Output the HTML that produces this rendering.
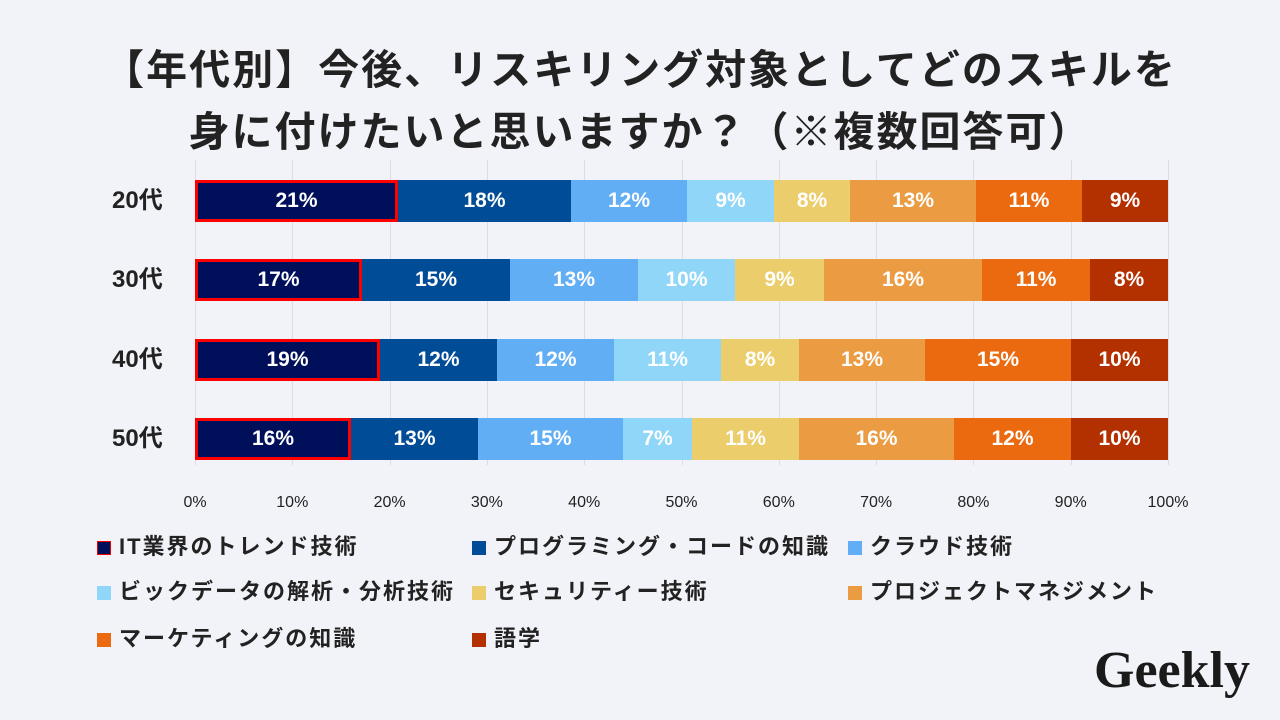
<!DOCTYPE html>
<html><head><meta charset="utf-8"><style>
body{margin:0;width:1280px;height:720px;background:#f2f3f8;position:relative;overflow:hidden;font-family:"Liberation Sans","Noto Sans CJK JP",sans-serif;color:#222}
.t{position:absolute;left:0;width:1280px;text-align:center;font-weight:bold;font-size:41px;letter-spacing:2px;line-height:50px}
.g{position:absolute;top:160px;height:305px;width:1px;background:#dcdde2}
.s{position:absolute;height:42px;color:#fff;font-weight:bold;font-size:21px;line-height:42px;text-align:center;box-sizing:border-box}
.y{position:absolute;left:112px;font-weight:bold;font-size:24px;width:60px;line-height:42px}
.x{position:absolute;top:494px;font-size:16px;width:60px;text-align:center;margin-left:-30px}
.l{position:absolute;font-weight:bold;font-size:22px;letter-spacing:2px;line-height:24px;white-space:nowrap}
.l i{display:inline-block;width:14px;height:14px;margin-right:8px;vertical-align:-1px}
</style></head><body>
<div class="t" style="top:45px">【年代別】今後、リスキリング対象としてどのスキルを</div>
<div class="t" style="top:107px">身に付けたいと思いますか？（※複数回答可）</div>
<div id="c"></div>
<script>
var cols=["#000f5a","#004c97","#62aef5","#8fd6f8","#ebcd6c","#eb9c42","#eb6a10","#b33000"];
var rows=[[180,"20代",[195,398,571,687,774,850,976,1082,1168],["21%","18%","12%","9%","8%","13%","11%","9%"]],
[259,"30代",[195,362,510,638,735,824,982,1090,1168],["17%","15%","13%","10%","9%","16%","11%","8%"]],
[339,"40代",[195,380,497,614,721,799,925,1071,1168],["19%","12%","12%","11%","8%","13%","15%","10%"]],
[418,"50代",[195,351,478,623,692,799,954,1071,1168],["16%","13%","15%","7%","11%","16%","12%","10%"]]];
var h="";
for(var i=0;i<=10;i++){var x=195+97.3*i;h+='<div class="g" style="left:'+Math.round(x)+'px"></div><div class="x" style="left:'+x+'px">'+(i*10)+'%</div>';}
rows.forEach(function(r){h+='<div class="y" style="top:'+(r[0])+'px">'+r[1]+'</div>';
for(var k=0;k<8;k++){var b=k==0?'border:3px solid #f00;line-height:36px;':'';
h+='<div class="s" style="top:'+r[0]+'px;left:'+r[2][k]+'px;width:'+(r[2][k+1]-r[2][k])+'px;background:'+cols[k]+';'+b+'">'+r[3][k]+'</div>';}});
var L=[["IT業界のトレンド技術",97,535,0],["プログラミング・コードの知識",472,535,1],["クラウド技術",848,535,2],["ビックデータの解析・分析技術",97,580,3],["セキュリティー技術",472,580,4],["プロジェクトマネジメント",848,580,5],["マーケティングの知識",97,627,6],["語学",472,627,7]];
L.forEach(function(l){var b=l[3]==0?'box-sizing:border-box;border:1px solid #e00;':'';h+='<div class="l" style="left:'+l[1]+'px;top:'+l[2]+'px"><i style="background:'+cols[l[3]]+';'+b+'"></i>'+l[0]+'</div>';});
h+='<div style="position:absolute;left:1094px;top:641px;font-family:\'Liberation Serif\',serif;font-weight:bold;font-size:52px;color:#1a1a1a;letter-spacing:0px">Geekly</div>';
document.getElementById("c").innerHTML=h;
</script>
</body></html>
